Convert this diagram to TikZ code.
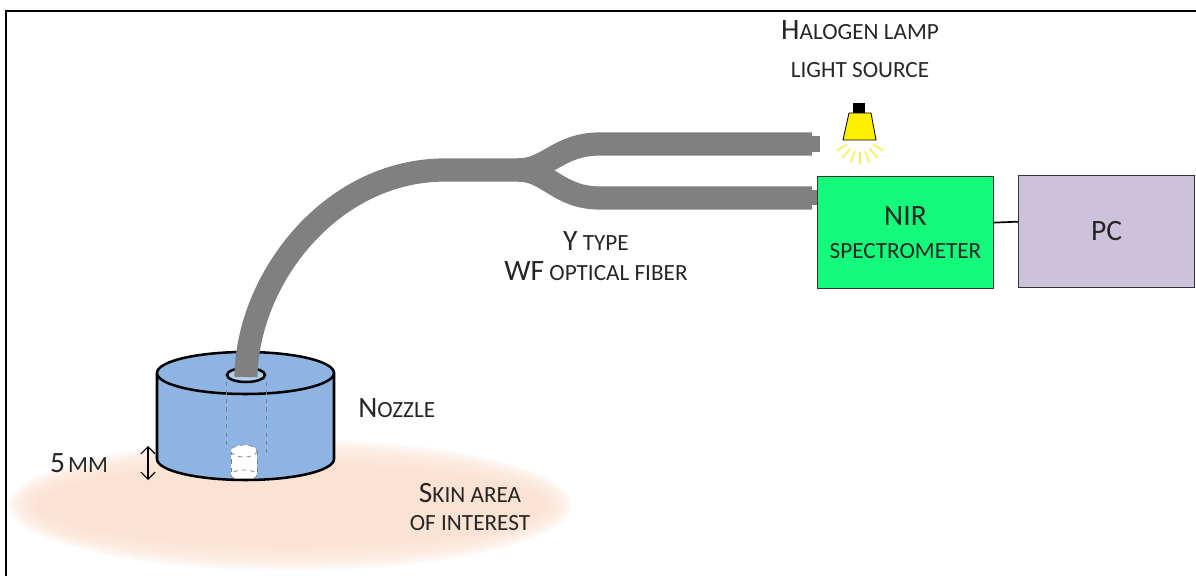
\documentclass[tikz,border=0pt]{standalone}
\usepackage{fontspec}
\setmainfont{Carlito}
\usetikzlibrary{arrows.meta}

\definecolor{fibergray}{RGB}{128,128,128}
\definecolor{nozzleblue}{RGB}{141,180,226}
\definecolor{holeblue}{RGB}{178,206,238}
\definecolor{nirgreen}{RGB}{20,250,122}
\definecolor{pclilac}{RGB}{204,194,220}
\definecolor{skinpeach}{RGB}{250,222,204}
\definecolor{lampyellow}{RGB}{255,240,0}
\definecolor{raylight}{RGB}{250,238,80}

% capitals and small capitals
\newcommand{\bigtxt}{\fontsize{21}{25}\selectfont}
\newcommand{\smtxt}{\fontsize{16.5}{25}\selectfont}

\begin{document}
\begin{tikzpicture}[x=0.025cm,y=-0.025cm,
	fiber/.style={fibergray, line width=16.5pt},
	outline/.style={black, line width=1.8pt},
	hidden/.style={gray, dashed, line width=0.5pt},
	box/.style={draw=black!80, line width=0.7pt, minimum width=4.375cm, minimum height=2.775cm, inner sep=0pt, align=center, text=black!85},
	txt/.style={align=center, inner sep=0pt, text=black!85}]
	\useasboundingbox (0,0) rectangle (1196,576);
	% frame
	\draw[line width=1.4pt] (6,576) -- (6,11) -- (1196,11);
	% skin patch
	\foreach \d in {0,...,10}
		\fill[skinpeach, opacity=0.16] (290,505) ellipse [x radius={282-3*\d}, y radius={66-2.6*\d}];
	% nozzle body
	\fill[nozzleblue] (157,373) -- (157,459) arc[start angle=180, end angle=0, x radius=88.5, y radius=21] -- (334,373) -- cycle;
	% probe tip
	\fill[white] (231,451) rectangle (257,475);
	\fill[white] (244,475) ellipse [x radius=13, y radius=5];
	\draw[hidden] (244,475) ellipse [x radius=13, y radius=5];
	\draw[hidden] (231,451) -- (231,475) (257,451) -- (257,475);
	\filldraw[hidden, fill=white] (244,451) ellipse [x radius=13, y radius=6];
	% nozzle outline
	\draw[outline] (157,373) -- (157,459) arc[start angle=180, end angle=0, x radius=88.5, y radius=21] -- (334,373);
	\filldraw[outline, fill=nozzleblue] (245.5,373) ellipse [x radius=88.5, y radius=21];
	\draw[hidden] (226,382) -- (226,450) (266,382) -- (266,453);
	\filldraw[outline, fill=holeblue] (246,375) ellipse [x radius=19, y radius=7];
	% Y fiber
	\draw[fiber] (246,377) .. controls (247,280) and (330,170) .. (445,170) -- (520,170);
	\draw[fiber] (518,170) .. controls (548,170) and (558,144) .. (600,144) -- (812,144);
	\draw[fiber] (518,170) .. controls (548,170) and (558,198) .. (600,198) -- (812,198);
	\fill[fibergray] (811,136) rectangle (820,152);
	\fill[fibergray] (811,190) rectangle (819,205);
	% lamp
	\foreach \a in {30,50,...,150}
		\draw[raylight, line width=1.1pt] (860,137) ++(\a:15) -- ++(\a:12);
	\filldraw[fill=lampyellow, draw=black, line width=0.6pt] (849,113) -- (871,113) -- (876,140) -- (843,140) -- cycle;
	\fill[black] (853,103) rectangle (865,113);
	% boxes
	\node[box, fill=nirgreen] (nir) at (905.5,232.5) {{\bigtxt NIR}\\[11pt]{\smtxt SPECTROMETER}};
	\node[box, fill=pclilac] (pc) at (1106.5,231.5) {\bigtxt PC};
	\draw[line width=1.2pt] ([yshift=7pt]nir.east) -- ([yshift=7pt]pc.west);
	% labels
	\node[txt] (lamplbl) at (860,49) {{\bigtxt H}{\smtxt ALOGEN LAMP}\\[15pt]{\smtxt LIGHT SOURCE}};
	\node[txt] (fiberlbl) at (596,256) {{\bigtxt Y}{\smtxt\ TYPE}\\[7pt]{\bigtxt WF}{\smtxt\ OPTICAL FIBER}};
	\node[txt, anchor=west] (nozzlelbl) at (358,408) {{\bigtxt N}{\smtxt OZZLE}};
	\node[txt] (skinlbl) at (470,507) {{\bigtxt S}{\smtxt KIN AREA}\\[8pt]{\smtxt OF INTEREST}};
	\node[txt] (gaplbl) at (79,463) {{\bigtxt 5} {\smtxt MM}};
	% 5 mm gap
	\coordinate (gaptop) at (148,446);
	\coordinate (gapbot) at (148,480);
	\draw[{Straight Barb[length=5pt]}-{Straight Barb[length=5pt]}, line width=0.8pt] (gaptop) -- (gapbot);
\end{tikzpicture}
\end{document}
